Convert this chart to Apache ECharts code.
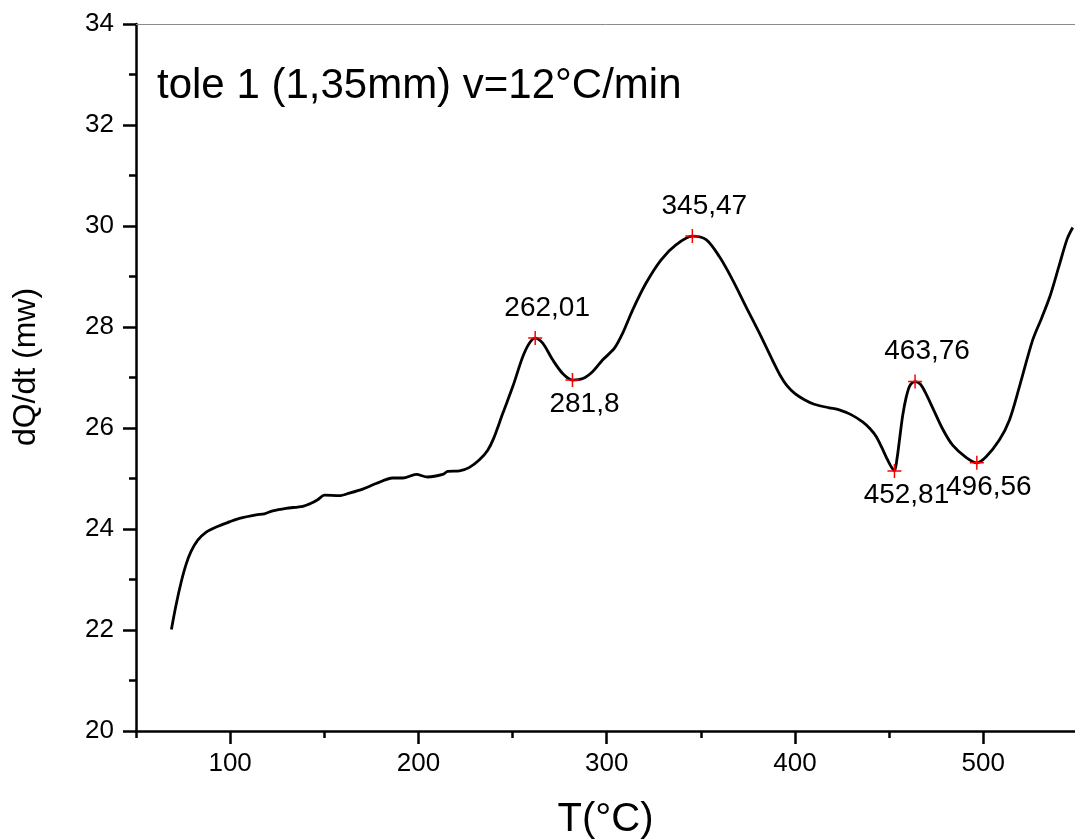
<!DOCTYPE html>
<html>
<head>
<meta charset="utf-8">
<script src="https://cdn.jsdelivr.net/npm/echarts@6/dist/echarts.min.js"></script>
<style>
  html, body { margin: 0; padding: 0; background: #fff; }
  #chart { width: 1075px; height: 840px; }
</style>
</head>
<body>
<div id="chart"></div>
<script>
// DSC trace: heat flow dQ/dt (mW) against temperature T (°C)
const temperature = [
  68.8, 71.3, 74.0, 76.6, 79.3, 82.8, 87.3, 92.6, 99.6, 104.9,
  113.8, 118.2, 122.6, 129.7, 138.6, 143.0, 146.5, 150.1, 158.0, 163.3,
  170.4, 177.5, 186.3, 191.7, 198.8, 204.9, 212.9, 215.6, 221.8, 227.1,
  232.4, 236.8, 240.0, 244.8, 250.1, 255.4, 258.9, 262.01, 266.0, 271.3,
  276.6, 281.8, 287.3, 292.6, 297.9, 304.1, 308.5, 313.8, 320.9, 328.9,
  336.9, 345.47, 352.8, 359.9, 366.9, 374.0, 381.1, 388.2, 392.0, 395.5,
  400.0, 405.0, 410.2, 418.2, 423.5, 430.0, 435.9, 440.0, 443.1, 446.0,
  448.5, 450.8, 452.81, 454.2, 455.6, 457.2, 459.0, 461.0, 463.76, 466.5,
  469.0, 473.1, 478.4, 483.7, 490.8, 496.56, 501.5, 508.5, 513.9, 519.2,
  526.2, 531.0, 535.5, 540.0, 544.5, 547.5
];
const dqdt = [
  22.01, 22.50, 22.95, 23.30, 23.56, 23.78, 23.94, 24.04, 24.14, 24.21,
  24.28, 24.30, 24.36, 24.41, 24.45, 24.51, 24.58, 24.67, 24.66, 24.71,
  24.79, 24.90, 25.01, 25.01, 25.08, 25.03, 25.08, 25.14, 25.15, 25.22,
  25.37, 25.56, 25.80, 26.29, 26.82, 27.41, 27.68, 27.78, 27.68, 27.35,
  27.08, 26.95, 26.98, 27.12, 27.35, 27.58, 27.88, 28.34, 28.87, 29.33,
  29.63, 29.80, 29.73, 29.39, 28.93, 28.40, 27.88, 27.33, 27.05, 26.85,
  26.68, 26.56, 26.47, 26.40, 26.36, 26.26, 26.12, 25.98, 25.83, 25.62,
  25.42, 25.25, 25.15, 25.40, 25.80, 26.25, 26.60, 26.84, 26.92, 26.87,
  26.72, 26.40, 25.98, 25.66, 25.42, 25.31, 25.43, 25.76, 26.16, 26.82,
  27.74, 28.18, 28.62, 29.18, 29.74, 29.97
];

// Picked extrema of the trace
const peakTemps = [262.01, 281.8, 345.47, 452.81, 463.76, 496.56];
const peakValues = [27.78, 26.95, 29.80, 25.15, 26.92, 25.31];
const peakType = ['max', 'min', 'max', 'min', 'max', 'min'];

const xMajorTicks = [100, 200, 300, 400, 500];
const xMinorTicks = [50, 150, 250, 350, 450];

const titleText = 'tole 1 (1,35mm) v=12°C/min';
const xName = 'T(°C)';
const yName = 'dQ/dt (mw)';

const FONT = '"Liberation Sans", Arial, sans-serif';
const X_MIN = 50, X_MAX = 548.7;

const curve = temperature.map((t, i) => [t, dqdt[i]]);

// thin "+" marker
const plusPath = 'path://M0,6.25L14,6.25L14,7.75L0,7.75Z M6.25,0L7.75,0L7.75,14L6.25,14Z';

const peaks = peakTemps.map((t, i) => {
  const above = peakType[i] === 'max';
  return {
    value: [t, peakValues[i]],
    label: {
      position: above ? 'top' : 'bottom',
      distance: above ? 9 : 3,
      offset: [12, 0]
    }
  };
});

const chart = echarts.init(document.getElementById('chart'));
chart.setOption({
  animation: false,
  backgroundColor: '#fff',
  textStyle: { fontFamily: FONT },
  title: {
    text: titleText,
    left: 157,
    top: 65,
    padding: 0,
    textStyle: { fontFamily: FONT, fontSize: 42, fontWeight: 'normal', color: '#000' }
  },
  graphic: [{
    type: 'text',
    x: 26,
    y: 367,
    rotation: Math.PI / 2,
    style: {
      text: yName,
      fontFamily: FONT,
      fontSize: 32,
      fill: '#000',
      align: 'center',
      verticalAlign: 'middle'
    }
  }],
  grid: { left: 136, right: 0, top: 24, bottom: 109, containLabel: false, outerBoundsMode: 'none' },
  xAxis: [
    {
      type: 'value',
      min: X_MIN,
      max: X_MAX,
      name: xName,
      nameLocation: 'middle',
      nameGap: 69,
      nameTextStyle: { fontFamily: FONT, fontSize: 40, color: '#000' },
      axisLine: { show: true, onZero: false, lineStyle: { color: '#000', width: 2.5 } },
      axisTick: { show: true, customValues: xMajorTicks, length: 13, lineStyle: { color: '#000', width: 2.5 } },
      axisLabel: { show: true, customValues: xMajorTicks, margin: 20, fontFamily: FONT, fontSize: 26, color: '#000' },
      splitLine: { show: false }
    },
    {
      // minor ticks along the bottom axis
      type: 'value',
      min: X_MIN,
      max: X_MAX,
      position: 'bottom',
      axisLine: { show: false, onZero: false },
      axisTick: { show: true, customValues: xMinorTicks, length: 7, lineStyle: { color: '#000', width: 2.5 } },
      axisLabel: { show: false },
      splitLine: { show: false }
    },
    {
      // thin frame line along the top
      type: 'value',
      min: X_MIN,
      max: X_MAX,
      position: 'top',
      axisLine: { show: true, onZero: false, lineStyle: { color: '#8a8a8a', width: 1 } },
      axisTick: { show: false },
      axisLabel: { show: false },
      splitLine: { show: false }
    }
  ],
  yAxis: {
    type: 'value',
    min: 20,
    max: 34,
    interval: 2,
    axisLine: { show: true, onZero: false, lineStyle: { color: '#000', width: 2.5 } },
    axisTick: { show: true, length: 13, lineStyle: { color: '#000', width: 2.5 } },
    minorTick: { show: true, splitNumber: 2, length: 7, lineStyle: { color: '#000', width: 2.5 } },
    axisLabel: { margin: 22, fontFamily: FONT, fontSize: 26, color: '#000' },
    splitLine: { show: false },
    minorSplitLine: { show: false }
  },
  series: [
    {
      type: 'line',
      xAxisIndex: 0,
      data: curve,
      smooth: 0.3,
      showSymbol: false,
      lineStyle: { color: '#000', width: 2.8 },
      z: 2
    },
    {
      type: 'scatter',
      xAxisIndex: 0,
      data: peaks,
      symbol: plusPath,
      symbolSize: 14,
      itemStyle: { color: '#ff0000', opacity: 1 },
      label: {
        show: true,
        fontFamily: FONT,
        fontSize: 28,
        color: '#000',
        opacity: 1,
        formatter: p => String(p.value[0]).replace('.', ',')
      },
      z: 3
    }
  ]
});
</script>
</body>
</html>
